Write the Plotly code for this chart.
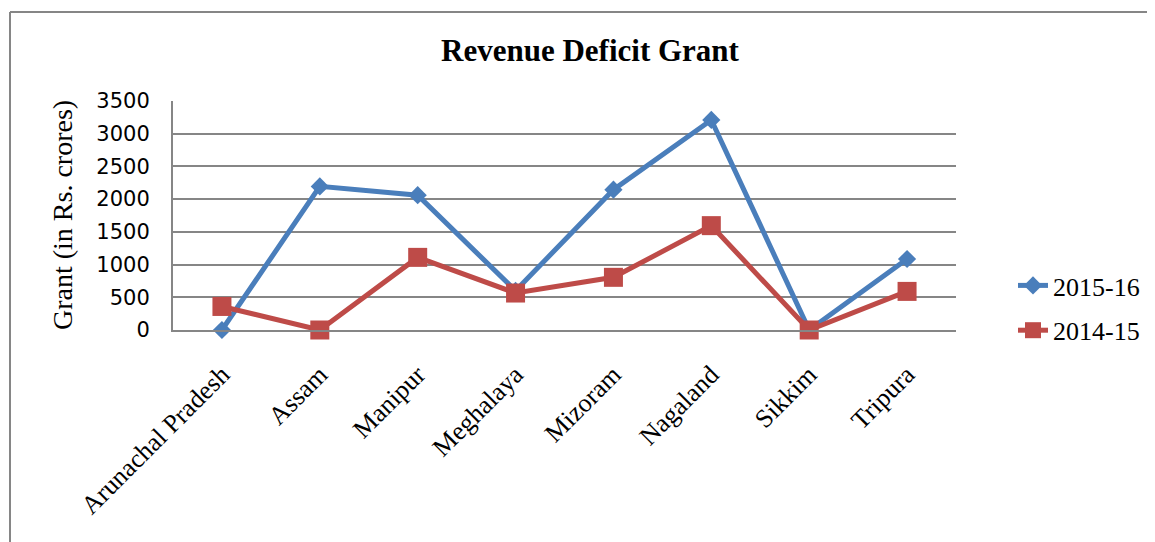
import plotly.graph_objects as go

states = ['Arunachal Pradesh', 'Assam', 'Manipur', 'Meghalaya',
          'Mizoram', 'Nagaland', 'Sikkim', 'Tripura']
grant_2015_16 = [0, 2195, 2060, 600, 2145, 3210, 0, 1085]
grant_2014_15 = [360, 0, 1110, 565, 805, 1595, 0, 590]
y_ticks = [0, 500, 1000, 1500, 2000, 2500, 3000, 3500]

W, H = 1155, 542
OFF = 8  # page body margin
# plot area in displayed pixels
L, R, T, B = 173, 956, 101, 330

def px_x(x):
    return (x - L) / (R - L)

def px_y(y):
    return (B - y) / (B - T)

serif = 'Liberation Serif, Times New Roman, serif'

fig = go.Figure()

fig.add_trace(go.Scatter(
    x=states, y=grant_2015_16, name='2015-16', mode='lines+markers',
    line=dict(color='#4A7EBB', width=5),
    marker=dict(symbol='diamond', size=14, color='#4A7EBB'),
    cliponaxis=False, legendgroup='a',
))
fig.add_trace(go.Scatter(
    x=states, y=grant_2014_15, name='2014-15', mode='lines+markers',
    line=dict(color='#BE4B48', width=5),
    marker=dict(symbol='square', size=19, color='#BE4B48'),
    cliponaxis=False, legendgroup='b',
))

fig.update_xaxes(
    type='category', range=[-0.5, 7.5],
    showgrid=False, showline=True, linecolor='#868686', linewidth=2,
    tickangle=-45, tickfont=dict(family=serif, size=26, color='black'),
    ticks='', ticklabelstandoff=17,
)
fig.update_yaxes(
    range=[0, 3500], tickvals=y_ticks,
    showgrid=True, gridcolor='#868686', gridwidth=1.5,
    showline=True, linecolor='#868686', linewidth=2,
    zeroline=False, ticks='', ticklabelstandoff=17,
    tickfont=dict(family='DejaVu Sans, sans-serif', size=21, color='black'),
)

fig.add_annotation(
    text='Grant (in Rs. crores)', textangle=-90, showarrow=False,
    xref='paper', yref='paper', x=px_x(62), y=px_y(215),
    xanchor='center', yanchor='middle',
    font=dict(family=serif, size=28, color='black'),
)

# outer chart border (top and left visible)
fig.add_shape(type='line', xref='paper', yref='paper',
              x0=px_x(10), y0=px_y(560), x1=px_x(10), y1=px_y(12),
              line=dict(color='#868686', width=2))
fig.add_shape(type='line', xref='paper', yref='paper',
              x0=px_x(10), y0=px_y(12), x1=px_x(1170), y1=px_y(12),
              line=dict(color='#868686', width=2))

fig.update_layout(
    width=W, height=H,
    margin=dict(l=L - OFF, r=W + OFF - R, t=T - OFF, b=H + OFF - B),
    paper_bgcolor='white', plot_bgcolor='white',
    title=dict(text='<b>Revenue Deficit Grant</b>', x=px_x(590), xref='paper',
               xanchor='center', y=1 - (50 - OFF) / H, yanchor='middle',
               font=dict(family=serif, size=31, color='black')),
    legend=dict(x=px_x(1013), y=px_y(262), xanchor='left', yanchor='top',
                font=dict(family=serif, size=26, color='black'),
                traceorder='grouped', tracegroupgap=8,
                bgcolor='rgba(0,0,0,0)'),
    showlegend=True,
)

fig.write_html('out.html')
